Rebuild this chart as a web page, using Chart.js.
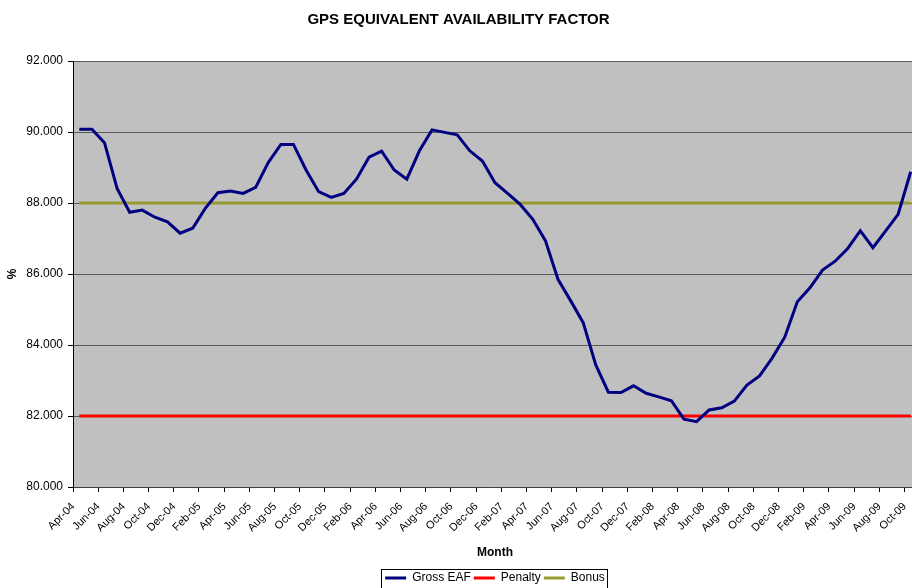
<!DOCTYPE html>
<html>
<head>
<meta charset="utf-8">
<script src="https://cdn.jsdelivr.net/npm/chart.js@4.4.0/dist/chart.umd.min.js"></script>
<style>
  html, body { margin: 0; padding: 0; background: #fff; overflow: hidden; }
  #wrap { width: 930px; height: 588px; }
</style>
</head>
<body>
<div id="wrap"><canvas id="eafChart" width="930" height="588"></canvas></div>
<script>
// months shown on the category axis
const months = [
  "Apr-04","May-04","Jun-04","Jul-04","Aug-04","Sep-04","Oct-04","Nov-04","Dec-04",
  "Jan-05","Feb-05","Mar-05","Apr-05","May-05","Jun-05","Jul-05","Aug-05","Sep-05","Oct-05","Nov-05","Dec-05",
  "Jan-06","Feb-06","Mar-06","Apr-06","May-06","Jun-06","Jul-06","Aug-06","Sep-06","Oct-06","Nov-06","Dec-06",
  "Jan-07","Feb-07","Mar-07","Apr-07","May-07","Jun-07","Jul-07","Aug-07","Sep-07","Oct-07","Nov-07","Dec-07",
  "Jan-08","Feb-08","Mar-08","Apr-08","May-08","Jun-08","Jul-08","Aug-08","Sep-08","Oct-08","Nov-08","Dec-08",
  "Jan-09","Feb-09","Mar-09","Apr-09","May-09","Jun-09","Jul-09","Aug-09","Sep-09","Oct-09"
];

// Gross EAF (%)
const grossEaf = [
  90.08, 90.08, 89.70, 88.41, 87.74, 87.80, 87.60, 87.47, 87.15,
  87.29, 87.85, 88.29, 88.34, 88.27, 88.44, 89.14, 89.65, 89.65, 88.93, 88.32, 88.16,
  88.27, 88.67, 89.29, 89.46, 88.93, 88.67, 89.47, 90.06, 89.99, 89.92, 89.47, 89.18,
  88.57, 88.27, 87.96, 87.54, 86.94, 85.85, 85.25, 84.63, 83.44, 82.67, 82.66, 82.85,
  82.64, 82.54, 82.43, 81.91, 81.84, 82.17, 82.23, 82.42, 82.87, 83.13, 83.63, 84.22,
  85.22, 85.61, 86.11, 86.36, 86.72, 87.22, 86.74, 87.21, 87.68, 88.88
];

const penaltyLevel = 82;
const bonusLevel = 88;
const penalty = months.map(() => penaltyLevel);
const bonus = months.map(() => bonusLevel);

// y axis: 80.000 .. 92.000 step 2
const yMin = 80, yMax = 92, yStep = 2;

Chart.defaults.font.family = "Arial, 'Liberation Sans', sans-serif";
Chart.defaults.color = "#000";

// grey plot background
const plotBg = {
  id: "plotBg",
  beforeDraw(chart) {
    const a = chart.chartArea, c = chart.ctx;
    c.save();
    c.fillStyle = "#c0c0c0";
    c.fillRect(a.left, a.top, a.right - a.left, a.bottom - a.top);
    c.restore();
  }
};

// thin frame round the legend, like the excel one
const legendFrame = {
  id: "legendFrame",
  afterDraw(chart) {
    const boxes = chart.legend && chart.legend.legendHitBoxes;
    if (!boxes || !boxes.length) return;
    let l = Infinity, r = -Infinity, t = Infinity;
    boxes.forEach(b => {
      l = Math.min(l, b.left);
      r = Math.max(r, b.left + b.width);
      t = Math.min(t, b.top);
    });
    const c = chart.ctx;
    c.save();
    c.strokeStyle = "#000";
    c.lineWidth = 1;
    c.strokeRect(Math.round(l - 4) + 0.5, Math.round(t - 3) + 0.5, Math.round(r - l + 6), 20);
    c.restore();
  }
};

const ctx = document.getElementById("eafChart").getContext("2d");
new Chart(ctx, {
  type: "line",
  data: {
    labels: months,
    datasets: [{
      label: "Gross EAF",
      data: grossEaf,
      borderColor: "#000080",
      backgroundColor: "#000080",
      borderWidth: 3,
      pointRadius: 0,
      tension: 0,
      fill: false
    }, {
      label: "Penalty",
      data: penalty,
      borderColor: "#ff0000",
      backgroundColor: "#ff0000",
      borderWidth: 3,
      pointRadius: 0,
      fill: false
    }, {
      label: "Bonus",
      data: bonus,
      borderColor: "#999933",
      backgroundColor: "#999933",
      borderWidth: 3,
      pointRadius: 0,
      fill: false
    }]
  },
  options: {
    responsive: false,
    animation: false,
    layout: { padding: { left: 0, right: 13, top: 0, bottom: -6 } },
    plugins: {
      title: {
        display: true,
        text: "GPS EQUIVALENT AVAILABILITY FACTOR",
        font: { size: 15, weight: "bold" },
        color: "#000",
        padding: { top: 11, bottom: 32 }
      },
      legend: {
        position: "bottom",
        fullSize: false,
        labels: {
          usePointStyle: true,
          pointStyle: "line",
          pointStyleWidth: 21,
          font: { size: 12 },
          color: "#000",
          padding: 3
        }
      },
      tooltip: { enabled: false }
    },
    scales: {
      x: {
        offset: true,
        afterFit(s) { s.height = 82; },
        grid: {
          offset: true,
          drawOnChartArea: false,
          tickLength: 5,
          tickColor: (c) => (c.index % 2 === 0 ? "#000" : "rgba(0,0,0,0)")
        },
        border: { color: "#404040", width: 1 },
        ticks: {
          autoSkip: false,
          minRotation: 45,
          maxRotation: 45,
          font: { size: 11 },
          color: "#000",
          padding: 8,
          labelOffset: -6,
          callback: (v, i) => (i % 2 === 0 ? months[i] : "")
        },
        title: {
          display: true,
          text: "Month",
          font: { size: 12, weight: "bold" },
          color: "#000",
          padding: { top: 0, bottom: 9 }
        }
      },
      y: {
        min: yMin,
        max: yMax,
        afterFit(s) { s.width = 73; },
        grid: {
          color: "#5a5a5a",
          lineWidth: 1,
          tickLength: 5,
          tickColor: "#000"
        },
        border: { color: "#000", width: 1 },
        ticks: {
          stepSize: yStep,
          font: { size: 12 },
          color: "#000",
          padding: 5,
          callback: (v) => v.toFixed(3)
        },
        title: {
          display: true,
          text: "%",
          font: { size: 12, weight: "bold" },
          color: "#000",
          padding: { top: 5, bottom: 0 }
        }
      }
    }
  },
  plugins: [plotBg, legendFrame]
});
</script>
</body>
</html>
